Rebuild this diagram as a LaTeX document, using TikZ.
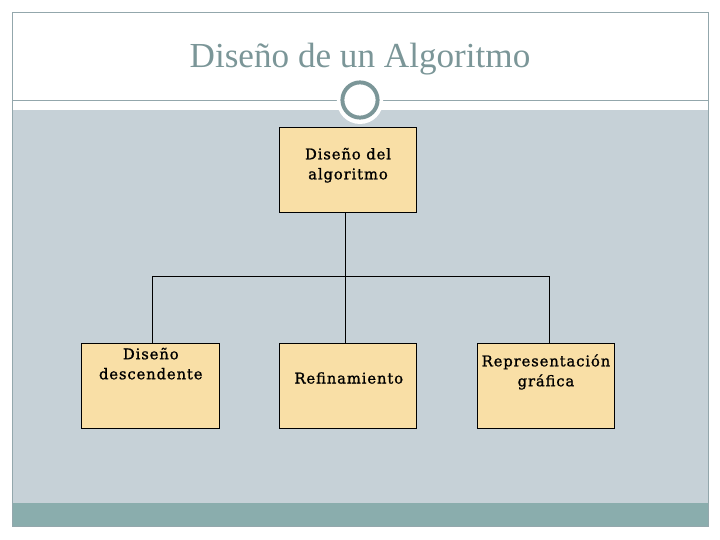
\documentclass[tikz,border=0pt]{standalone}
\usepackage{fontspec}
\usepackage{xcolor}
\usepackage{tikz}
\setmainfont{Liberation Serif}
\newfontfamily\boxfont[LetterSpace=6,FakeBold=1.2]{DejaVu Serif}
\definecolor{DAFrame}{HTML}{93A7AC}
\definecolor{DAMist}{HTML}{C6D1D7}
\definecolor{DATeal}{HTML}{8AADAD}
\definecolor{DASlate}{HTML}{7B9698}
\definecolor{DASand}{HTML}{F9DFA6}
\tikzset{
  stepbox/.style={draw=black,line width=0.6pt,fill=DASand,minimum width=3.43cm,minimum height=2.13cm,inner sep=0pt},
  boxtext/.style={align=center,font=\boxfont\fontsize{10.5}{14.2}\selectfont},
  link/.style={draw=black,line width=0.6pt}
}

\begin{document}
\begin{tikzpicture}[x=1cm,y=1cm]
\path[use as bounding box] (0,0) rectangle (18.00,13.50);
\fill[DAMist] (0.30,0.93) rectangle (17.70,10.75);
\fill[DATeal] (0.30,0.33) rectangle (17.70,0.93);
\draw[DAFrame,line width=0.6pt] (0.30,0.33) rectangle (17.70,13.20);
\draw[DAFrame,line width=0.6pt] (0.30,11.00) -- (17.70,11.00);
\fill[white] (9.00,10.98) circle (0.58);
\draw[DASlate,line width=2.8pt] (9.00,11.00) circle (0.44);
\node[anchor=base,text=DASlate,font=\fontsize{25}{30}\selectfont] (title) at (9.00,11.80) {Diseño de un Algoritmo};
% boxes
\node[stepbox] (top) at (8.70,9.25) {};
\node[stepbox] (left) at (3.76,3.86) {};
\node[stepbox] (mid) at (8.70,3.86) {};
\node[stepbox] (right) at (13.64,3.86) {};
\node[boxtext] (top-t) at (8.70,9.37) {Diseño del\\algoritmo};
\node[boxtext] (left-t) at (3.77,4.41) {Diseño\\descendente};
\node[boxtext] (mid-t) at (8.72,4.05) {Refinamiento};
\node[boxtext] (right-t) at (13.65,4.20) {Representación\\gráfica};
% connectors
\coordinate (bar) at (8.63,6.58);
\draw[link] ([xshift=-0.07cm]top.south) -- ([xshift=-0.07cm]mid.north);
\draw[link] ([xshift=0.06cm]left.north) |- (bar) -| ([xshift=0.09cm]right.north);
\end{tikzpicture}
\end{document}
